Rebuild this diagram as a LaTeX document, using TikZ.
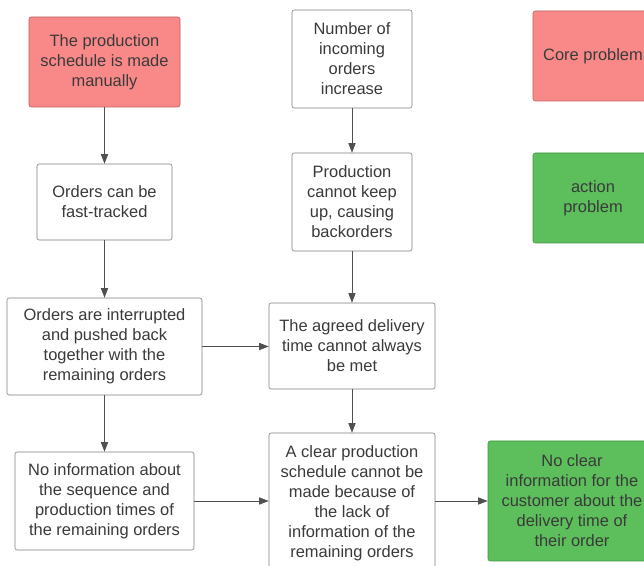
\documentclass[tikz,border=0pt]{standalone}
\usepackage{fontspec}
\setmainfont{Liberation Sans}
\usetikzlibrary{arrows.meta}
\definecolor{corered}{RGB}{249,137,137}
\definecolor{coreline}{RGB}{190,95,95}
\definecolor{actiongreen}{RGB}{92,191,92}
\definecolor{actionline}{RGB}{66,150,66}
\definecolor{boxline}{RGB}{125,125,125}
\definecolor{txt}{RGB}{58,58,58}
\definecolor{arrowgray}{RGB}{80,80,80}

\begin{document}
\begin{tikzpicture}[
box/.style={draw=boxline, fill=white, rounded corners=1.5pt, align=center, text=txt, inner sep=0pt, font=\fontsize{11.7}{14.2}\selectfont},
corebox/.style={box, draw=coreline, fill=corered},
actionbox/.style={box, draw=actionline, fill=actiongreen},
arr/.style={draw=arrowgray, line width=0.6pt, -{Triangle[length=2.4mm, width=1.8mm]}}
]
\clip (0,0) rectangle (16.1,14.15);
\fill[white] (0,0) rectangle (16.1,14.15);
\node[corebox, minimum width=3.775cm, minimum height=2.25cm] (manual) at (2.6125,12.6) {The production\\schedule is made\\manually};
\node[box, minimum width=3.375cm, minimum height=1.9cm] (fasttrack) at (2.6125,9.1) {Orders can be\\fast-tracked};
\node[box, minimum width=4.875cm, minimum height=2.425cm] (interrupt) at (2.6125,5.4875) {Orders are interrupted\\and pushed back\\together with the\\remaining orders};
\node[box, minimum width=4.475cm, minimum height=2.45cm] (noinfo) at (2.6125,1.625) {No information about\\the sequence and\\production times of\\the remaining orders};
\node[box, minimum width=3cm, minimum height=2.45cm] (incoming) at (8.8,12.675) {Number of\\incoming\\orders\\increase};
\node[box, minimum width=3cm, minimum height=2.45cm] (keepup) at (8.8,9.1) {Production\\cannot keep\\up, causing\\backorders};
\node[box, minimum width=4.15cm, minimum height=2.15cm] (delivery) at (8.8,5.5) {The agreed delivery\\time cannot always\\be met};
\node[box, minimum width=4.15cm, minimum height=3.5cm] (schedule) at (8.8,1.575) {A clear production\\schedule cannot be\\made because of\\the lack of\\information of the\\remaining orders};
\node[actionbox, minimum width=4.2cm, minimum height=3cm] (customer) at (14.3,1.625) {No clear\\information for the\\customer about the\\delivery time of\\their order};
\node[corebox, minimum width=3cm, minimum height=2.25cm] (core) at (14.825,12.75) {Core problem};
\node[actionbox, minimum width=3cm, minimum height=2.25cm] (action) at (14.825,9.2) {action\\problem};
\draw[arr] (manual) -- (fasttrack);
\draw[arr] (fasttrack) -- (interrupt);
\draw[arr] (interrupt) -- (noinfo);
\draw[arr] (incoming) -- (keepup);
\draw[arr] (keepup) -- (delivery);
\draw[arr] (delivery) -- (schedule);
\draw[arr] (interrupt.east) -- (interrupt.east -| delivery.west);
\draw[arr] (noinfo.east) -- (noinfo.east -| schedule.west);
\draw[arr] (schedule.east |- customer.west) -- (customer.west);
\end{tikzpicture}
\end{document}
